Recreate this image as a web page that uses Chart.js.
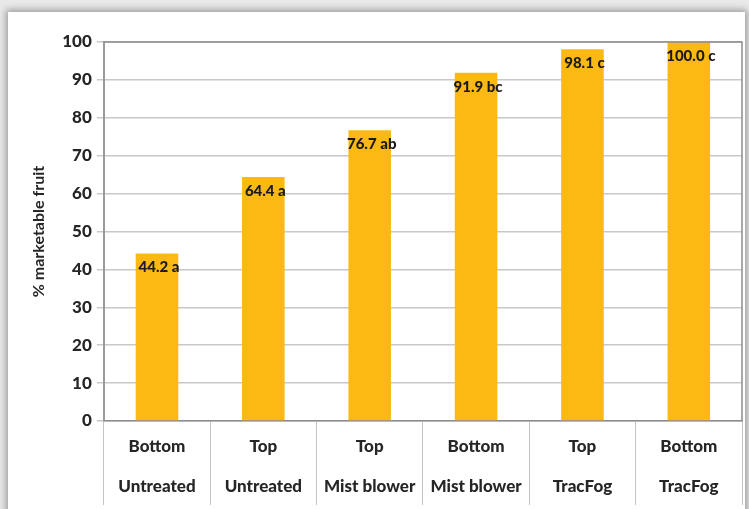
<!DOCTYPE html>
<html>
<head>
<meta charset="utf-8">
<script src="https://cdn.jsdelivr.net/npm/chart.js@4.4.1/dist/chart.umd.min.js"></script>
<style>
  html, body { margin: 0; padding: 0; }
  body { width: 749px; height: 509px; background: #e9e9e9; position: relative; overflow: hidden; }
  #card { position: absolute; left: 8px; top: 12px; width: 737px; height: 510px; background: #fff;
          box-shadow: 0 0 7px 2px rgba(0,0,0,0.35); }
  #wrap { position: absolute; left: 0; top: 0; width: 749px; height: 509px; }
</style>
</head>
<body>
<div id="card"></div>
<div id="wrap"><canvas id="c" width="749" height="509"></canvas></div>
<script>
const positions = ["Bottom", "Top", "Top", "Bottom", "Top", "Bottom"];
const treatments = ["Untreated", "Untreated", "Mist blower", "Mist blower", "TracFog", "TracFog"];
const marketable = [44.2, 64.4, 76.7, 91.9, 98.1, 100.0];
const letters = ["a", "a", "ab", "bc", "c", "c"];
const yTicks = [0, 10, 20, 30, 40, 50, 60, 70, 80, 90, 100];

const labels = positions.map((p, i) => [p, treatments[i]]);
const FONT = "Lato, 'Open Sans', sans-serif";

const barLabels = {
  id: 'barLabels',
  afterDatasetsDraw(chart) {
    const ctx = chart.ctx;
    const meta = chart.getDatasetMeta(0);
    ctx.save();
    ctx.font = "900 15px " + FONT;
    ctx.fillStyle = "#1a1a1a";
    ctx.textAlign = "center";
    ctx.textBaseline = "middle";
    meta.data.forEach((bar, i) => {
      const txt = marketable[i].toFixed(1) + " " + letters[i];
      ctx.fillText(txt, bar.x + 2, bar.y + 14);
    });
    ctx.restore();
  }
};

const frame = {
  id: 'frame',
  afterDraw(chart) {
    const a = chart.chartArea;
    const ctx = chart.ctx;
    ctx.save();
    ctx.strokeStyle = "#8c8c8c";
    ctx.lineWidth = 1.5;
    ctx.beginPath();
    ctx.moveTo(a.left, a.top);
    ctx.lineTo(a.right, a.top);
    ctx.lineTo(a.right, a.bottom);
    ctx.stroke();
    ctx.restore();
  }
};

new Chart(document.getElementById('c'), {
  type: 'bar',
  data: {
    labels: labels,
    datasets: [{
      data: marketable,
      backgroundColor: '#FDB913',
      borderWidth: 0,
      categoryPercentage: 1.0,
      barPercentage: 0.4
    }]
  },
  options: {
    responsive: false,
    animation: false,
    devicePixelRatio: 1,
    layout: { padding: { left: 29, top: 42, right: 7, bottom: 1 } },
    plugins: { legend: { display: false }, tooltip: { enabled: false } },
    scales: {
      x: {
        offset: true,
        afterFit(scale) { scale.height = 87; },
        grid: { display: true, drawOnChartArea: false, drawTicks: true, tickLength: 84, color: '#c4c4c4', offset: true },
        border: { display: true, color: '#8c8c8c', width: 1.5 },
        ticks: {
          color: '#262626',
          font: { family: FONT, size: 17, weight: '900', lineHeight: 40 / 17 },
          padding: -78,
          maxRotation: 0,
          autoSkip: false
        }
      },
      y: {
        min: 0,
        max: 100,
        afterBuildTicks(scale) { scale.ticks = yTicks.map(v => ({ value: v })); },
        grid: { color: '#c8c8c8', lineWidth: 1.5, tickLength: 7 },
        border: { display: true, color: '#9a9a9a', width: 2 },
        ticks: {
          color: '#262626',
          font: { family: FONT, size: 17, weight: '900' },
          padding: 5
        },
        title: {
          display: true,
          text: '% marketable fruit',
          color: '#262626',
          font: { family: FONT, size: 16, weight: 'bold' },
          padding: { top: 0, bottom: 9 }
        }
      }
    }
  },
  plugins: [barLabels, frame]
});
</script>
</body>
</html>
